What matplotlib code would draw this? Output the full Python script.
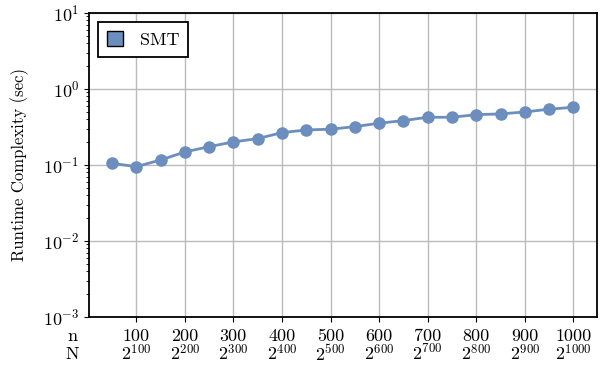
import numpy as np
import matplotlib
matplotlib.use("Agg")
import matplotlib.pyplot as plt
from matplotlib.patches import Patch

plt.rcParams["font.family"] = "serif"
plt.rcParams["font.serif"] = ["cmr10"]
plt.rcParams["mathtext.fontset"] = "cm"
plt.rcParams["axes.formatter.use_mathtext"] = True
plt.rcParams["font.size"] = 13

# Data
n_vals = [50, 100, 150, 200, 250, 300, 350, 400, 450, 500,
          550, 600, 650, 700, 750, 800, 850, 900, 950, 1000]
runtime = [0.105, 0.095, 0.116, 0.148, 0.174, 0.201, 0.222, 0.266, 0.289, 0.295,
           0.319, 0.354, 0.383, 0.424, 0.424, 0.459, 0.469, 0.498, 0.541, 0.574]
tick_n = [100, 200, 300, 400, 500, 600, 700, 800, 900, 1000]
tick_labels = [f"{n}\n$2^{{{n}}}$" for n in tick_n]
series_name = "SMT"
color = "#6c8ebf"

fig = plt.figure(figsize=(6.02, 3.69), dpi=100)
ax = fig.add_axes([0.148, 0.141, 0.844, 0.824])

ax.plot(n_vals, runtime, "-o", color=color, lw=2, markersize=8, zorder=3)

ax.set_yscale("log")
ax.set_ylim(1e-3, 1e1)
ax.set_xlim(3, 1049)
ax.set_xticks(tick_n)
ax.set_xticklabels(tick_labels, linespacing=0.95)
ax.grid(True, which="major", color="#bbbbbb", lw=1)
ax.set_axisbelow(True)
ax.tick_params(axis="both", which="both", direction="out", color="black")
ax.tick_params(axis="x", pad=5)
for s in ax.spines.values():
    s.set_linewidth(1.3)
    s.set_color("black")

ax.set_ylabel("Runtime Complexity (sec)", fontsize=12, labelpad=10)

fig.text(72 / 602, 1 - 336 / 369, "n", ha="center", va="center", fontsize=13)
fig.text(72 / 602, 1 - 354 / 369, "N", ha="center", va="center", fontsize=13)

handle = Patch(facecolor=color, edgecolor="black", label=series_name)
leg = ax.legend(handles=[handle], loc="upper left", fancybox=False,
                edgecolor="black", framealpha=1, handlelength=0.9, handleheight=0.9,
                borderpad=0.5, handletextpad=0.9)
leg.get_frame().set_linewidth(1.3)

fig.savefig("out.png", dpi=100)
